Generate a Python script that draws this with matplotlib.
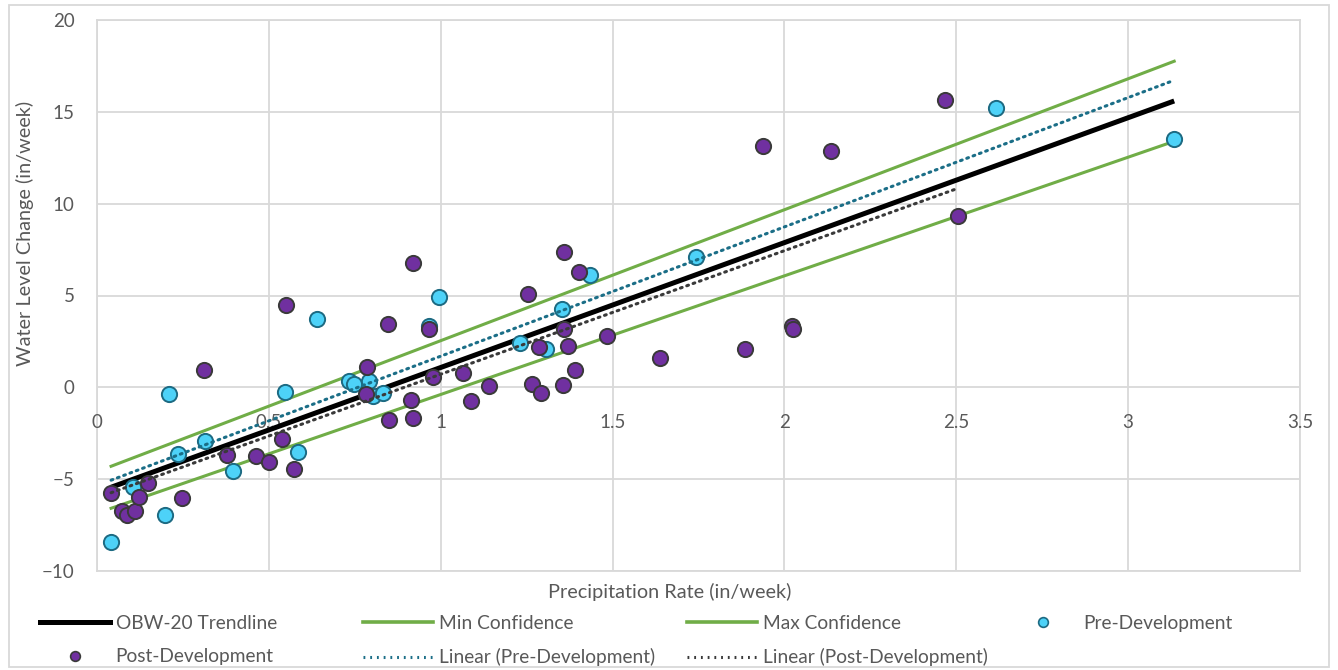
import numpy as np
import matplotlib
matplotlib.use('Agg')
import matplotlib.pyplot as plt
from matplotlib.lines import Line2D
from matplotlib.patches import Rectangle

plt.rcParams['font.family'] = ['Lato', 'DejaVu Sans']

# Pre-Development observations (in/week)
pre_x = [0.041, 0.105, 0.198, 0.209, 0.236, 0.314, 0.396, 0.547, 0.585, 0.640,
         0.733, 0.748, 0.791, 0.803, 0.832, 0.966, 0.995, 1.231, 1.306, 1.353,
         1.434, 1.743, 2.616, 3.134]
pre_y = [-8.44, -5.44, -6.97, -0.38, -3.65, -2.94, -4.57, -0.27, -3.54, 3.70,
         0.33, 0.16, 0.33, -0.49, -0.33, 3.32, 4.90, 2.40, 2.07, 4.25,
         6.10, 7.08, 15.19, 13.50]

# Post-Development observations
post_x = [0.041, 0.073, 0.087, 0.111, 0.122, 0.148, 0.247, 0.311, 0.378, 0.463,
          0.500, 0.538, 0.573, 0.550, 0.786, 0.783, 0.847, 0.850, 0.914, 0.919,
          0.919, 0.966, 0.978, 1.065, 1.088, 1.141, 1.254, 1.266, 1.292, 1.286,
          1.356, 1.359, 1.370, 1.391, 1.402, 1.359, 1.484, 1.638, 1.885, 1.938,
          2.022, 2.025, 2.136, 2.467, 2.505]
post_y = [-5.77, -6.75, -6.97, -6.75, -5.99, -5.23, -6.04, 0.93, -3.70, -3.76,
          -4.08, -2.83, -4.46, 4.46, 1.09, -0.38, 3.43, -1.80, -0.71, -1.69,
          6.75, 3.16, 0.54, 0.76, -0.76, 0.05, 5.06, 0.16, -0.33, 2.18,
          0.11, 3.16, 2.23, 0.93, 6.26, 7.35, 2.78, 1.58, 2.07, 13.12,
          3.32, 3.16, 12.85, 15.62, 9.31]

# OBW-20 trendline and confidence bounds (slope, intercept)
trend_coef = [6.80, -5.72]
min_coef = [6.46, -6.85]
max_coef = [7.13, -4.59]
line_x = [0.041, 3.134]

fig = plt.figure(figsize=(13.38, 6.70), dpi=100)
ax = fig.add_axes([97/1338, 1 - 571/670, (1300-97)/1338, (571-20)/670])

lx = np.array(line_x)
ax.plot(lx, np.polyval(trend_coef, lx), color='black', lw=3.6, zorder=2,
        solid_capstyle='butt')
ax.plot(lx, np.polyval(min_coef, lx), color='#70AD47', lw=2.2, zorder=2)
ax.plot(lx, np.polyval(max_coef, lx), color='#70AD47', lw=2.2, zorder=2)

ax.scatter(pre_x, pre_y, s=120, color='#4DD2F8', edgecolor='#1D6A82',
           linewidth=1.4, zorder=3)
ax.scatter(post_x, post_y, s=120, color='#7030A0', edgecolor='#3A3A3A',
           linewidth=1.4, zorder=3)

# Excel-style linear trendlines fitted to each series
pre_fit = np.polyfit(pre_x, pre_y, 1)
post_fit = np.polyfit(post_x, post_y, 1)
px = np.array([min(pre_x), max(pre_x)])
qx = np.array([min(post_x), max(post_x)])
ax.plot(px, np.polyval(pre_fit, px), color='#1B6E87', lw=2.2, ls=(0, (0.6, 1.6)),
        dash_capstyle='round', zorder=4)
ax.plot(qx, np.polyval(post_fit, qx), color='#3A3A3A', lw=2.2, ls=(0, (0.6, 1.6)),
        dash_capstyle='round', zorder=4)

ax.set_xlim(0, 3.5)
ax.set_ylim(-10, 20)
ax.set_xticks(np.arange(0, 3.51, 0.5))
ax.set_yticks(np.arange(-10, 20.1, 5))
ax.set_xticklabels(['0', '0.5', '1', '1.5', '2', '2.5', '3', '3.5'])
ax.grid(True, color='#D9D9D9', lw=1.3, zorder=0)
ax.set_axisbelow(True)
for s in ax.spines.values():
    s.set_visible(False)
ax.spines['bottom'].set_position(('data', 0))
ax.tick_params(axis='both', length=0, labelsize=13.5, labelcolor='#595959')
ax.tick_params(axis='x', pad=19)
ax.tick_params(axis='y', pad=16)
ax.axhline(-10, color='#D9D9D9', lw=1.3, zorder=0, clip_on=False)
ax.axvline(0, color='#D9D9D9', lw=1.3, zorder=0, clip_on=False)
ax.axvline(3.5, color='#D9D9D9', lw=1.3, zorder=0, clip_on=False)
ax.axhline(20, color='#D9D9D9', lw=1.3, zorder=0, clip_on=False)

fig.text(670/1338, 1 - 592/670, 'Precipitation Rate (in/week)', ha='center',
         va='center', fontsize=14.3, color='#595959')
fig.text(25/1338, 1 - 233/670, 'Water Level Change (in/week)', ha='center',
         va='center', rotation=90, fontsize=14.3, color='#595959')

# chart border
fig.patches.append(Rectangle((9/1338, 3/670), 1320/1338, 662/670, fill=False,
                             edgecolor='#D9D9D9', lw=1.3, transform=fig.transFigure))

h_trend = Line2D([], [], color='black', lw=3.6)
h_min = Line2D([], [], color='#70AD47', lw=2.6)
h_max = Line2D([], [], color='#70AD47', lw=2.6)
h_pre = Line2D([], [], ls='none', marker='o', ms=7, mfc='#4DD2F8', mec='#1D6A82', mew=1.2)
h_post = Line2D([], [], ls='none', marker='o', ms=7, mfc='#7030A0', mec='#3A3A3A', mew=1.2)
h_lpre = Line2D([], [], color='#1B6E87', lw=2.2, ls=(0, (0.6, 1.6)))
h_lpost = Line2D([], [], color='#3A3A3A', lw=2.2, ls=(0, (0.6, 1.6)))

columns = [
    (40, [h_trend, h_post], ['OBW-20 Trendline', 'Post-Development']),
    (363, [h_min, h_lpre], ['Min Confidence', 'Linear (Pre-Development)']),
    (687, [h_max, h_lpost], ['Max Confidence', 'Linear (Post-Development)']),
    (1008, [h_pre], ['Pre-Development']),
]
for x0, hs, labs in columns:
    fig.legend(hs, labs, loc='upper left', bbox_to_anchor=(x0/1338, 1 - 615/670),
               frameon=False, fontsize=13.8, labelcolor='#595959', handlelength=3.65,
               handletextpad=0.3, labelspacing=0.85, borderpad=0, borderaxespad=0)

fig.savefig('out.png', dpi=100)
